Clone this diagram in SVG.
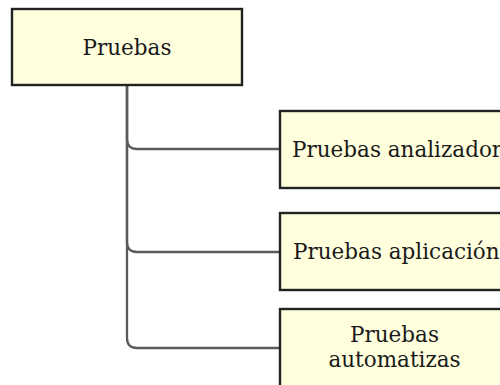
<svg xmlns="http://www.w3.org/2000/svg" width="500" height="385" viewBox="0 0 500 385">
  <style>
    .node rect { fill: #ffffde; stroke: #222; stroke-width: 2.4; }
    .node text { font-family: "DejaVu Serif", serif; font-size: 21.5px; fill: #1a1a1a; text-anchor: middle; }
    .node text.left { text-anchor: start; }
    .edge { fill: none; stroke: #5a5a5a; stroke-width: 2.3; }
  </style>
  <rect width="500" height="385" fill="#ffffff"/>
  <g id="connectors">
    <path class="edge" d="M127,85 V139 Q127,149 137,149 H280"/>
    <path class="edge" d="M127,85 V242 Q127,252 137,252 H280"/>
    <path class="edge" d="M127,85 V338 Q127,348 137,348 H280"/>
  </g>
  <g id="root" class="node">
    <rect x="12" y="9" width="230" height="76"/>
    <text x="127" y="55">Pruebas</text>
  </g>
  <g id="analizador" class="node">
    <rect x="280" y="111" width="240" height="77"/>
    <text class="left" x="292" y="157">Pruebas analizador</text>
  </g>
  <g id="aplicacion" class="node">
    <rect x="280" y="213" width="240" height="77"/>
    <text class="left" x="293" y="259">Pruebas aplicación</text>
  </g>
  <g id="automatizas" class="node">
    <rect x="280" y="309" width="229" height="78"/>
    <text x="394.5" y="342">Pruebas</text>
    <text x="394.5" y="367">automatizas</text>
  </g>
</svg>
